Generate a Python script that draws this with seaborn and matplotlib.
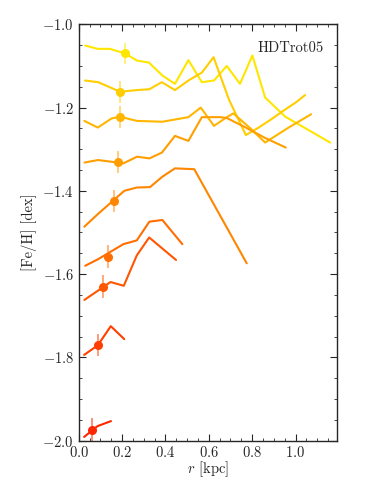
import seaborn as sns
import matplotlib
matplotlib.use("Agg")
import matplotlib.pyplot as plt
import pandas as pd
import numpy as np

###############################################################
# radial [Fe/H] profiles, one per age/population bin (top = yellow, bottom = red)

r1 = [0.030, 0.088, 0.144, 0.214, 0.268, 0.324, 0.386, 0.444, 0.506, 0.568, 0.624, 0.683, 0.744, 0.801, 0.860, 0.953, 1.160]
feh1 = [-1.051, -1.059, -1.059, -1.070, -1.087, -1.092, -1.123, -1.143, -1.086, -1.139, -1.135, -1.100, -1.143, -1.075, -1.176, -1.222, -1.284]

r2 = [0.029, 0.090, 0.191, 0.268, 0.326, 0.383, 0.444, 0.506, 0.568, 0.622, 0.694, 0.771, 0.827, 0.883, 0.943, 1.003, 1.044]
feh2 = [-1.135, -1.139, -1.162, -1.158, -1.156, -1.139, -1.158, -1.135, -1.116, -1.079, -1.182, -1.266, -1.249, -1.230, -1.208, -1.187, -1.170]

r3 = [0.026, 0.088, 0.152, 0.191, 0.268, 0.386, 0.506, 0.563, 0.624, 0.683, 0.713, 0.790, 0.860, 0.965, 1.072]
feh3 = [-1.232, -1.248, -1.226, -1.222, -1.232, -1.234, -1.223, -1.200, -1.244, -1.223, -1.214, -1.249, -1.284, -1.249, -1.216]

r4 = [0.027, 0.089, 0.150, 0.206, 0.269, 0.327, 0.384, 0.444, 0.506, 0.568, 0.652, 0.683, 0.767, 0.860, 0.955]
feh4 = [-1.332, -1.326, -1.330, -1.334, -1.318, -1.322, -1.308, -1.268, -1.280, -1.223, -1.223, -1.225, -1.247, -1.273, -1.296]

r5 = [0.026, 0.088, 0.210, 0.268, 0.329, 0.386, 0.444, 0.533, 0.775]
feh5 = [-1.486, -1.456, -1.400, -1.392, -1.391, -1.366, -1.346, -1.348, -1.574]

r6 = [0.030, 0.090, 0.206, 0.268, 0.326, 0.386, 0.478]
feh6 = [-1.580, -1.564, -1.528, -1.519, -1.474, -1.470, -1.528]

r7 = [0.026, 0.088, 0.147, 0.208, 0.268, 0.325, 0.449]
feh7 = [-1.662, -1.640, -1.619, -1.628, -1.555, -1.512, -1.566]

r8 = [0.025, 0.088, 0.148, 0.210]
feh8 = [-1.794, -1.771, -1.725, -1.756]

r9 = [0.025, 0.087, 0.149]
feh9 = [-1.991, -1.965, -1.953]

# mean radius / mean [Fe/H] of each bin, with errors
r_mean = [0.214, 0.191, 0.191, 0.181, 0.164, 0.137, 0.114, 0.090, 0.061]
feh_mean = [-1.070, -1.162, -1.222, -1.331, -1.424, -1.558, -1.630, -1.770, -1.975]
feh_err = [0.026, 0.026, 0.026, 0.027, 0.027, 0.027, 0.027, 0.027, 0.030]

label = "HDTrot05"

all_r = [r1, r2, r3, r4, r5, r6, r7, r8, r9]
all_feh = [feh1, feh2, feh3, feh4, feh5, feh6, feh7, feh8, feh9]

frames = []
for i, (rr, ff) in enumerate(zip(all_r, all_feh)):
    frames.append(pd.DataFrame({"r": rr, "feh": ff, "bin": i}))
df = pd.concat(frames, ignore_index=True)

colors = [plt.cm.autumn(v) for v in np.linspace(0.9, 0.15, 9)]

###############################################################
sns.set_style("ticks")
plt.rcParams["font.family"] = "serif"
plt.rcParams["font.serif"] = ["cmr10", "DejaVu Serif"]
plt.rcParams["mathtext.fontset"] = "cm"
plt.rcParams["axes.formatter.use_mathtext"] = True
plt.rcParams["axes.unicode_minus"] = True

fig = plt.figure(figsize=(3.74, 4.98), dpi=100)
ax = fig.add_axes([0.2104, 0.1151, 0.6899, 0.8361])

sns.lineplot(data=df, x="r", y="feh", hue="bin", palette=colors,
             legend=False, linewidth=1.5, sort=False, estimator=None, ax=ax)

for i in range(9):
    ax.errorbar(r_mean[i], feh_mean[i], yerr=feh_err[i], fmt="none",
                ecolor=colors[i], elinewidth=1.2, alpha=0.6, capsize=0)
    ax.plot(r_mean[i], feh_mean[i], "o", color=colors[i], markersize=6.5,
            markeredgewidth=0)

ax.text(0.951, 0.942, label, transform=ax.transAxes, ha="right", va="center",
        fontsize=10.5)

ax.set_xlim(0, 1.19)
ax.set_ylim(-2.0, -1.0)
ax.xaxis.set_major_locator(plt.MultipleLocator(0.2))
ax.xaxis.set_minor_locator(plt.MultipleLocator(0.05))
ax.yaxis.set_major_locator(plt.MultipleLocator(0.2))
ax.yaxis.set_minor_locator(plt.MultipleLocator(0.05))
ax.xaxis.set_major_formatter(plt.FuncFormatter(lambda v, p: "$%.1f$" % v))
ax.yaxis.set_major_formatter(plt.FuncFormatter(lambda v, p: "$%.1f$" % v))
ax.tick_params(which="both", direction="in", top=True, right=True, labelsize=10.5)
ax.tick_params(which="major", length=5, width=0.8)
ax.tick_params(which="minor", length=2.5, width=0.6)
ax.tick_params(axis="x", pad=3)
for s in ax.spines.values():
    s.set_linewidth(1.0)

ax.set_xlabel("$r$ [kpc]", fontsize=10.5, labelpad=0)
ax.set_ylabel("[Fe/H] [dex]", fontsize=10.5, labelpad=4)

plt.savefig("out.png", dpi=100)
